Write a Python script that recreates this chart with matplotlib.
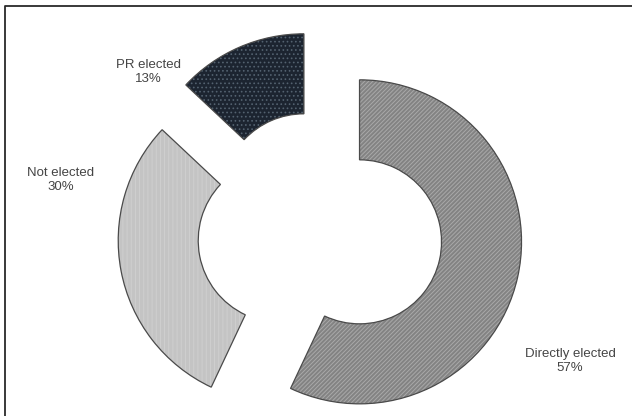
import matplotlib
matplotlib.use("Agg")
import matplotlib.pyplot as plt

# seat shares by type of election
groups = ["Directly elected", "Not elected", "PR elected"]
shares = [57, 30, 13]

face_colors = ["#838383", "#c4c4c4", "#1c2430"]
hatch_colors = ["#a9a9a9", "#d0d0d0", "#53616f"]
hatches = ["////////", "||||", "...."]

plt.rcParams["font.family"] = ["Liberation Sans", "DejaVu Sans"]
plt.rcParams["hatch.linewidth"] = 0.7

W, H = 632, 416
fig = plt.figure(figsize=(W / 100, H / 100), dpi=100)
ax = fig.add_axes([0, 0, 1, 1])

R = 162
# pie's explode is an absolute offset, so scale it by the radius
ring = dict(radius=R, center=(320, H - 233), startangle=90,
            counterclock=False, explode=[0.25 * R] * len(shares))

# fill + hatch layer
wedges, _ = ax.pie(shares, colors=face_colors,
                   wedgeprops=dict(width=80, linewidth=0), **ring)
for w, hc, h in zip(wedges, hatch_colors, hatches):
    w.set_edgecolor(hc)
    w.set_hatch(h)

# outline layer
outline, _ = ax.pie(shares, colors=["none"] * len(shares),
                    wedgeprops=dict(width=80, linewidth=0.9,
                                    edgecolor="#4a4a4a"), **ring)

label_pos = [(570, H - 361), (61, H - 180), (148, H - 72)]
for name, pct, (x, y) in zip(groups, shares, label_pos):
    ax.text(x, y, f"{name}\n{pct}%", ha="center", va="center",
            fontsize=9.5, color="#444444", linespacing=1.15, zorder=5)

ax.set_xlim(0, W)
ax.set_ylim(0, H)
ax.set_aspect("equal")
ax.axis("off")

# border box around the graphic
ax.plot([4.5, 4.5, W + 5], [-5, H - 5.5, H - 5.5], color="#2a2a2a",
        linewidth=1.3, clip_on=False)

fig.savefig("out.png", dpi=100, facecolor="white")
